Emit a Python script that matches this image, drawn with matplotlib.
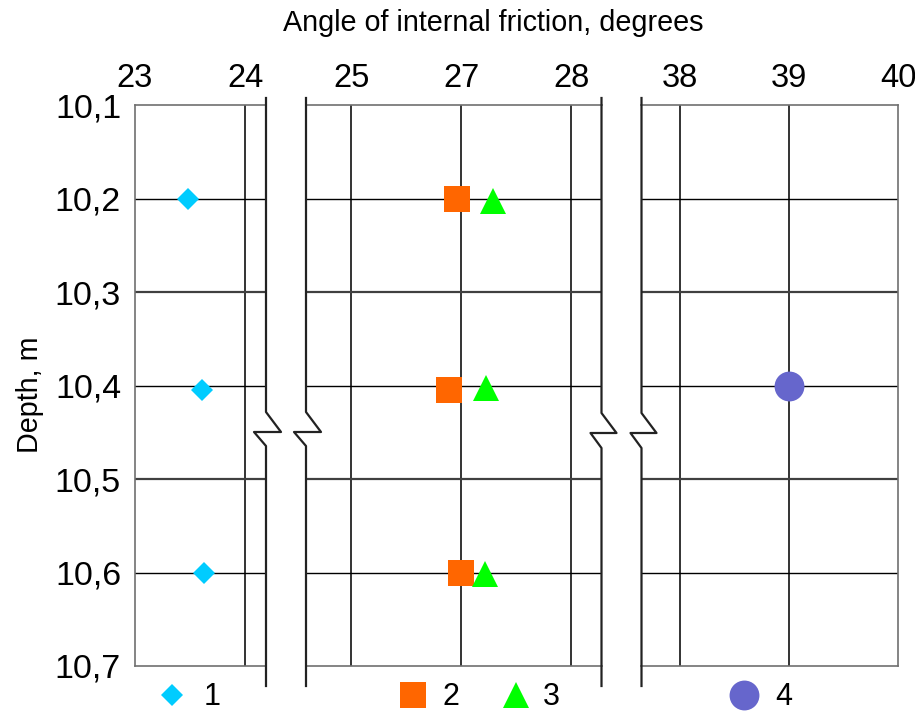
import matplotlib.pyplot as plt
from matplotlib.lines import Line2D

plt.rcParams['font.family'] = ['Liberation Sans', 'DejaVu Sans']

# depth, m
depth = [10.2, 10.405, 10.6]

# angle of internal friction, degrees
series1 = [23.485, 23.606, 23.63]     # diamonds
series2 = [26.96, 26.89, 27.0]        # squares
series3 = [27.29, 27.23, 27.22]       # triangles
depth3 = [10.203, 10.403, 10.602]
series4 = [39.0]                      # circle
depth4 = [10.4]

y_ticks = [10.1, 10.2, 10.3, 10.4, 10.5, 10.6, 10.7]
y_labels = ["10,1", "10,2", "10,3", "10,4", "10,5", "10,6", "10,7"]

left_ticks = [23, 24]
left_labels = ["23", "24"]
mid_ticks = [26, 27, 28]
mid_labels = ["25", "27", "28"]
right_ticks = [38, 39, 40]
right_labels = ["38", "39", "40"]

W, H = 915, 715
fig = plt.figure(figsize=(W / 100, H / 100), dpi=100)


def px_rect(x0, x1, ytop, ybot):
    return [x0 / W, 1 - ybot / H, (x1 - x0) / W, (ybot - ytop) / H]


ax1 = fig.add_axes(px_rect(135, 266, 105, 666))
ax2 = fig.add_axes(px_rect(306, 602, 105, 666))
ax3 = fig.add_axes(px_rect(641, 898, 105, 666))

frame_c = "#707070"
for ax, xlim, ticks, labels in [
    (ax1, (23, 24.19), left_ticks, left_labels),
    (ax2, (25.59, 28.28), mid_ticks, mid_labels),
    (ax3, (37.64, 40.0), right_ticks, right_labels),
]:
    ax.set_xlim(*xlim)
    ax.set_ylim(10.7, 10.1)
    ax.xaxis.tick_top()
    ax.set_xticks(ticks)
    ax.set_xticklabels(labels, fontsize=23.5)
    ax.set_yticks(y_ticks)
    ax.tick_params(length=0, pad=8)
    for s in ax.spines.values():
        s.set_color(frame_c)
        s.set_linewidth(1.2)
    ax.spines["right"].set_visible(False)
    ax.spines["left"].set_visible(False)
    for t in ticks:
        if xlim[0] < t < xlim[1] - 0.01:
            ax.axvline(t, color="#333333", lw=1.4, zorder=1)
    for y in y_ticks[1:-1]:
        if y in (10.3, 10.5):
            ax.axhline(y, color="#404040", lw=1.6, zorder=1)
        else:
            ax.axhline(y, color="black", lw=1.0, zorder=1)

ax1.spines["left"].set_visible(True)
ax3.spines["right"].set_visible(True)
ax1.set_yticklabels(y_labels, fontsize=24.5)
ax1.tick_params(axis="y", pad=10)
ax2.set_yticklabels([])
ax3.set_yticklabels([])

ax1.plot(series1, depth, "D", color="#00CCFF", ms=11.5, mew=0, zorder=3)
ax2.plot(series2, depth, "s", color="#FF6600", ms=19, mew=0, zorder=3)
ax2.plot(series3, depth3, "^", color="#00FF00", ms=19, mew=0, zorder=3)
ax3.plot(series4, depth4, "o", color="#6666CC", ms=21.5, mew=0, zorder=3)


# broken-axis marks (pixel coordinates of decorations)
def break_line(x, dx, dl, ytop=98, ybot=686, y1=412, ym=432, y2=446):
    xs = [x, x, x + dx, x - dl, x, x]
    ys = [ytop, y1, ym, ym, y2, ybot]
    fig.add_artist(Line2D([v / W for v in xs], [1 - v / H for v in ys],
                          color="#222222", lw=1.6, transform=fig.transFigure))


break_line(266, 15, 12)
break_line(306, 15, 12)
break_line(601.5, 15, 11, y1=413, ym=433, y2=448)
break_line(641.5, 15, 11, y1=413, ym=433, y2=448)

fig.text(493 / W, 1 - 23 / H, "Angle of internal friction, degrees",
         ha="center", va="center", fontsize=20.7)
fig.text(30 / W, 1 - 395 / H, "Depth, m", rotation=90,
         ha="center", va="center", fontsize=20.7)

# legend keys below the plot
keys = [
    ("D", "#00CCFF", 11.5, 172, "1", 212),
    ("s", "#FF6600", 19, 413, "2", 451),
    ("^", "#00FF00", 19, 516, "3", 551),
    ("o", "#6666CC", 21.5, 744, "4", 784),
]
for m, c, ms, mx, lab, tx in keys:
    fig.add_artist(Line2D([mx / W], [1 - 695 / H], marker=m, color=c, ms=ms,
                          mew=0, linestyle="none", transform=fig.transFigure))
    fig.text(tx / W, 1 - 697 / H, lab, ha="center", va="center", fontsize=22)

fig.savefig("out.png", dpi=100)
